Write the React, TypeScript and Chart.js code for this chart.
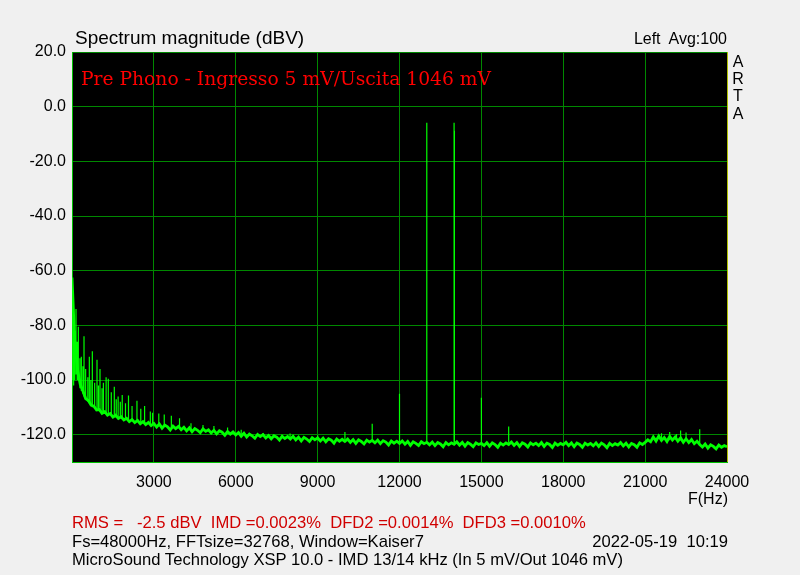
import React, { useEffect, useRef } from "react";
import { Chart, registerables } from "chart.js";

Chart.register(...registerables);

// ---- Data ----
const FLOOR_STEP_HZ = 100; // floor samples, one every 100 Hz from 0 Hz to 24000 Hz
const floorDb: number[] = [
  -62.5, -86, -96, -101.5, -104, -106.8, -107.5, -109.2, -109.6, -111,
  -110.8, -112.2, -111.6, -112.9, -112.3, -113.6, -112.9, -114.1, -113.5, -114.6,
  -114, -115.2, -114.5, -115.6, -114.8, -116, -115.2, -116.3, -115.5, -116.7,
  -115.9, -117.2, -116.1, -117.6, -116.5, -117.1, -118.3, -116.9, -117.8, -117.0,
  -118.2, -117.3, -118.6, -117.5, -118.9, -117.8, -118.4, -119.3, -117.9, -118.8,
  -118.2, -119.4, -118.4, -119.7, -118.6, -119.1, -120.2, -118.9, -119.8, -119.0,
  -120.1, -119.2, -120.6, -119.5, -120.9, -119.8, -120.4, -121.3, -119.9, -120.7,
  -120.0, -121.2, -120.3, -121.5, -120.4, -120.9, -122.0, -120.6, -121.4, -120.7,
  -121.6, -120.6, -121.9, -120.9, -122.3, -121.0, -121.6, -122.5, -121.1, -121.9,
  -121.2, -122.3, -121.3, -122.6, -121.5, -122.0, -123.1, -121.6, -122.4, -121.7,
  -122.5, -121.6, -122.8, -121.8, -123.2, -121.9, -122.5, -123.4, -122.0, -122.7,
  -122.1, -123.0, -122.0, -123.3, -122.2, -122.7, -123.8, -122.3, -123.1, -122.4,
  -123.2, -122.3, -123.5, -122.5, -123.9, -122.6, -123.2, -124.0, -122.6, -123.3,
  -122.8, -123.7, -122.7, -124.0, -122.9, -123.4, -124.4, -122.9, -123.7, -123.0,
  -123.5, -122.6, -123.8, -122.8, -124.2, -122.9, -123.5, -124.4, -123.0, -123.6,
  -123.2, -124.0, -122.9, -124.2, -123.0, -123.6, -124.6, -123.1, -123.8, -123.0,
  -123.6, -122.7, -123.9, -122.9, -124.3, -123.0, -123.5, -124.5, -123.0, -123.7,
  -123.1, -124.0, -122.9, -124.3, -123.1, -123.6, -124.7, -123.1, -123.9, -123.2,
  -123.7, -122.8, -124.0, -123.0, -124.4, -123.1, -123.6, -124.6, -123.1, -123.8,
  -123.2, -124.1, -123.0, -124.3, -123.1, -123.7, -124.8, -123.2, -124.0, -123.3,
  -123.8, -122.9, -124.1, -123.1, -124.5, -123.2, -123.7, -124.6, -123.0, -123.6,
  -122.8, -121.9, -122.6, -120.8, -122.3, -120.5, -122.1, -121.0, -122.5, -120.6,
  -122.0, -120.9, -122.4, -121.2, -122.8, -121.5, -122.9, -121.8, -123.3, -122.4,
  -123.6, -124.5, -123.4, -124.9, -123.7, -124.3, -125.2, -123.8, -124.6, -124.0,
  -124.4,
];

const spikeFreqs: number[] = [
  30, 60, 100, 147, 190, 232, 290, 342, 400, 440, 500, 580, 635, 690, 745, 830, 916,
  970, 1026, 1100, 1150, 1250, 1330, 1440, 1550, 1620, 1690, 1770, 1840, 1960, 2070,
  2200, 2380, 2520, 2660, 2870, 2950, 3180, 3380, 3640, 3940, 4360, 4800, 5200,
  5700, 6200, 7000, 7990, 9000, 10000, 11000, 12000, 13000, 14000, 14012, 15000,
  16000, 21600, 21900, 22150, 22300, 22500, 23000,
];
const spikeTops: number[] = [
  -76, -79, -82, -74, -86, -80.5, -92, -91.5, -95, -84, -96, -99, -91.5, -100,
  -89.5, -101, -92.6, -102, -96, -103, -101, -99, -99.5, -104.5, -102.5, -107,
  -106, -108, -105.5, -108.5, -105.7, -109.5, -107.6, -110.5, -109.5, -111.5,
  -112, -112.3, -112.6, -113.1, -114, -115.8, -116.5, -116.8, -117.4, -118.2,
  -119.4, -119.6, -120.2, -119, -116, -105, -5.9, -5.9, -8.8, -106.5, -117, -119.5,
  -119, -119.8, -118.5, -119.2, -118,
];
const spikeBottoms: number[] = [
  -100, -102, -100, -98, -100, -100, -103, -104, -105, -106, -107, -108, -108.5,
  -109, -110, -110.5, -111, -111, -111.5, -112, -112, -112.5, -112.5, -113,
  -113.5, -113.8, -114, -114, -114.2, -114.5, -114.8, -115, -115.3, -115.5,
  -115.8, -116, -116.2, -116.5, -116.8, -117.2, -117.5, -118, -118.5, -118.8,
  -119.3, -120, -120.6, -121, -121.5, -122.2, -122.5, -123, -123, -123, -123, -123,
  -123, -122, -122, -122, -122, -122, -123.5,
];

const yTicks: number[] = [20, 0, -20, -40, -60, -80, -100, -120];
const xTicks: number[] = [0, 3000, 6000, 9000, 12000, 15000, 18000, 21000, 24000];

const GRID = "rgb(0,136,0)";
const TRACE = "#00ff00";
const SANS = "'Liberation Sans', Arial, sans-serif";

const plotBg = {
  id: "plotBg",
  beforeDraw(chart: any) {
    const { ctx, chartArea } = chart;
    ctx.save();
    ctx.fillStyle = "#000";
    ctx.fillRect(chartArea.left, chartArea.top, chartArea.right - chartArea.left, chartArea.bottom - chartArea.top);
    ctx.restore();
  },
};

export default function App() {
  const ref = useRef<HTMLCanvasElement | null>(null);

  useEffect(() => {
    if (!ref.current) return;
    const floorData = floorDb.map((v, i) => ({ x: i * FLOOR_STEP_HZ, y: v }));
    const spikeData: { x: number; y: number | null }[] = [];
    spikeFreqs.forEach((f, i) => {
      spikeData.push({ x: f, y: spikeBottoms[i] });
      spikeData.push({ x: f, y: spikeTops[i] });
      spikeData.push({ x: f, y: null });
    });

    const chart = new Chart(ref.current, {
      type: "line",
      data: {
        datasets: [
          {
            data: floorData as any,
            borderColor: TRACE,
            borderWidth: 2.8,
            pointRadius: 0,
            tension: 0,
          },
          {
            data: spikeData as any,
            borderColor: TRACE,
            borderWidth: 1.2,
            pointRadius: 0,
            spanGaps: false,
            tension: 0,
          },
        ],
      },
      options: {
        animation: false,
        responsive: false,
        devicePixelRatio: 1,
        layout: { padding: { left: 0, right: 73, top: 52, bottom: 0 } },
        plugins: { legend: { display: false }, tooltip: { enabled: false } },
        scales: {
          x: {
            type: "linear",
            min: 0,
            max: 24000,
            afterBuildTicks: (s: any) => {
              s.ticks = xTicks.map((v) => ({ value: v }));
            },
            afterFit: (s: any) => {
              s.height = 113;
            },
            grid: {
              color: (c: any) => (c.tick && c.tick.value === 24000 ? "#b0c000" : GRID),
              lineWidth: 1,
              drawTicks: false,
            },
            border: { color: "#00c000", width: 1 },
            ticks: {
              color: "#000",
              padding: 11,
              maxRotation: 0,
              autoSkip: false,
              font: { family: SANS, size: 16 },
              callback: (v: any) => (v === 0 ? "" : String(v)),
            },
          },
          y: {
            type: "linear",
            min: -130,
            max: 20,
            afterBuildTicks: (s: any) => {
              s.ticks = yTicks.map((v) => ({ value: v }));
            },
            afterFit: (s: any) => {
              s.width = 72;
            },
            grid: { color: GRID, lineWidth: 1, drawTicks: false },
            border: { color: "#00c000", width: 1 },
            ticks: {
              color: "#000",
              padding: 6,
              autoSkip: false,
              font: { family: SANS, size: 16 },
              callback: (v: any) => Number(v).toFixed(1),
            },
          },
        },
      },
      plugins: [plotBg],
    });
    return () => chart.destroy();
  }, []);

  const txt = (extra: React.CSSProperties): React.CSSProperties => ({
    position: "absolute",
    fontFamily: SANS,
    fontSize: 16.6,
    lineHeight: 1,
    whiteSpace: "pre",
    color: "#000",
    ...extra,
  });

  return (
    <div style={{ position: "absolute", left: 0, top: 0, width: 800, height: 575, background: "#f0f0f0", overflow: "hidden" }}>
      <canvas ref={ref} width={800} height={575} style={{ position: "absolute", left: 0, top: 0 }} />
      <div style={txt({ left: 75, top: 28, fontSize: 19 })}>Spectrum magnitude (dBV)</div>
      <div style={txt({ right: 73, top: 31, fontSize: 16 })}>Left  Avg:100</div>
      <div style={txt({ left: 728, width: 20, top: 53, fontSize: 16, textAlign: "center", lineHeight: "17.2px" })}>
        A<br />R<br />T<br />A
      </div>
      <div style={txt({ left: 81, top: 69.5, fontSize: 18.7, color: "#ff0000", fontFamily: "'DejaVu Serif', serif" })}>
        Pre Phono - Ingresso 5 mV/Uscita 1046 mV
      </div>
      <div style={txt({ right: 72, top: 491, fontSize: 16 })}>F(Hz)</div>
      <div style={txt({ left: 72, top: 515, color: "#d00000" })}>
        {"RMS =   -2.5 dBV  IMD =0.0023%  DFD2 =0.0014%  DFD3 =0.0010%"}
      </div>
      <div style={txt({ left: 72, top: 534 })}>Fs=48000Hz, FFTsize=32768, Window=Kaiser7</div>
      <div style={txt({ right: 72, top: 534 })}>2022-05-19  10:19</div>
      <div style={txt({ left: 72, top: 552 })}>
        MicroSound Technology XSP 10.0 - IMD 13/14 kHz (In 5 mV/Out 1046 mV)
      </div>
    </div>
  );
}
